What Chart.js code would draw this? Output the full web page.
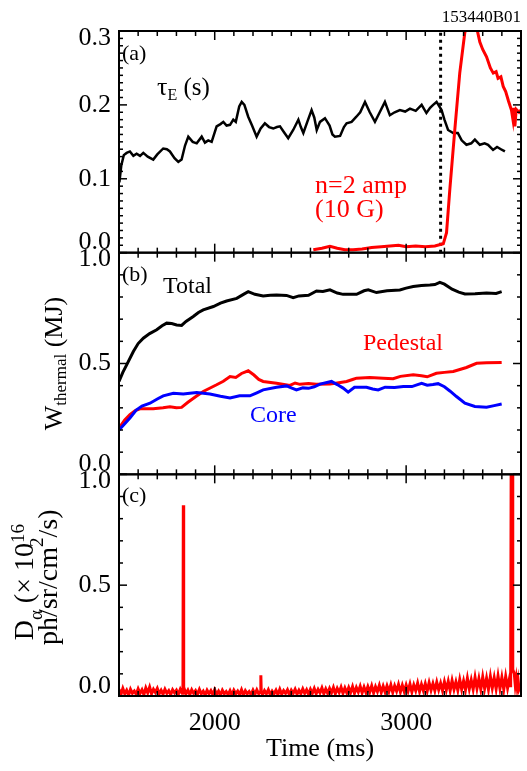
<!DOCTYPE html>
<html>
<head>
<meta charset="utf-8">
<script src="https://cdn.jsdelivr.net/npm/chart.js@4.4.1/dist/chart.umd.min.js"></script>
<style>
  html, body { margin: 0; background: #fff; }
  #wrap { width: 527px; height: 771px; position: relative; }
</style>
</head>
<body>
<div id="wrap"><canvas id="shot"></canvas></div>
<script>
const SERIF = '"Liberation Serif", "Times New Roman", serif';

// time axis (ms)
const timeRange = [1500, 3600];
const timeLabels = [2000, 3000];
const timeMinor = 100;

// panel (a): energy confinement time and n=2 amplitude
const tauLabels = [0.0, 0.1, 0.2, 0.3];
const tauE = [
  [1502, 0.095], [1512, 0.118], [1525, 0.132], [1540, 0.135], [1557, 0.137], [1575, 0.131],
  [1592, 0.134], [1610, 0.131], [1627, 0.135], [1650, 0.130], [1679, 0.126], [1700, 0.133],
  [1731, 0.141], [1750, 0.140], [1766, 0.137], [1790, 0.128], [1810, 0.123], [1827, 0.126],
  [1845, 0.145], [1862, 0.157], [1885, 0.150], [1906, 0.148], [1932, 0.157], [1949, 0.149],
  [1966, 0.152], [1984, 0.150], [2010, 0.171], [2030, 0.174], [2045, 0.177], [2062, 0.172],
  [2080, 0.173], [2097, 0.180], [2110, 0.177], [2128, 0.198], [2141, 0.204], [2155, 0.200],
  [2175, 0.184], [2195, 0.172], [2219, 0.157], [2240, 0.168], [2262, 0.175], [2284, 0.170],
  [2306, 0.168], [2325, 0.170], [2341, 0.171], [2362, 0.163], [2384, 0.155], [2410, 0.166],
  [2437, 0.180], [2450, 0.170], [2463, 0.162], [2485, 0.178], [2506, 0.193], [2520, 0.183],
  [2533, 0.166], [2550, 0.177], [2576, 0.182], [2600, 0.172], [2615, 0.160], [2628, 0.157],
  [2655, 0.158], [2675, 0.170], [2689, 0.175], [2715, 0.177], [2740, 0.184], [2760, 0.190],
  [2785, 0.204], [2810, 0.190], [2837, 0.177], [2862, 0.190], [2889, 0.204], [2915, 0.186],
  [2940, 0.190], [2967, 0.193], [2995, 0.191], [3020, 0.195], [3050, 0.192], [3081, 0.200],
  [3106, 0.189], [3125, 0.196], [3141, 0.200], [3159, 0.204], [3185, 0.193], [3200, 0.180],
  [3219, 0.166], [3246, 0.162], [3270, 0.162], [3290, 0.152], [3315, 0.146], [3340, 0.148],
  [3359, 0.153], [3385, 0.146], [3410, 0.148], [3428, 0.146], [3454, 0.139], [3475, 0.143],
  [3495, 0.140], [3516, 0.137]
];
const n2Amp = [
  [2515, 0.004], [2560, 0.006], [2602, 0.0085], [2640, 0.006], [2680, 0.004], [2723, 0.004],
  [2770, 0.005], [2820, 0.007], [2870, 0.008], [2915, 0.009], [2960, 0.010], [3000, 0.008],
  [3050, 0.009], [3100, 0.008], [3150, 0.009], [3194, 0.012], [3211, 0.027], [3228, 0.085],
  [3254, 0.166], [3280, 0.243], [3306, 0.297], [3320, 0.312], [3350, 0.318], [3368, 0.305],
  [3385, 0.285], [3400, 0.275], [3420, 0.265], [3440, 0.250], [3455, 0.243], [3470, 0.245],
  [3480, 0.236], [3495, 0.238], [3507, 0.225], [3520, 0.218], [3535, 0.205], [3550, 0.193],
  [3558, 0.180], [3563, 0.196], [3568, 0.171], [3575, 0.194], [3590, 0.190], [3600, 0.193]
];
const modeTime = 3180;

// panel (b): stored thermal energy (MJ)
const energyLabels = [0.0, 0.5, 1.0];
const wTotal = [
  [1500, 0.419], [1520, 0.460], [1540, 0.494], [1575, 0.554], [1600, 0.590], [1627, 0.614],
  [1660, 0.635], [1697, 0.652], [1725, 0.670], [1749, 0.682], [1775, 0.680], [1801, 0.674],
  [1827, 0.672], [1850, 0.690], [1888, 0.712], [1915, 0.730], [1940, 0.742], [1993, 0.757],
  [2030, 0.772], [2062, 0.782], [2115, 0.794], [2150, 0.812], [2175, 0.824], [2210, 0.812],
  [2253, 0.805], [2290, 0.808], [2323, 0.809], [2375, 0.807], [2410, 0.797], [2440, 0.805],
  [2490, 0.808], [2532, 0.827], [2565, 0.825], [2602, 0.832], [2640, 0.818], [2671, 0.812],
  [2741, 0.812], [2780, 0.828], [2802, 0.832], [2845, 0.820], [2900, 0.828], [2967, 0.832],
  [3000, 0.840], [3037, 0.847], [3080, 0.852], [3124, 0.854], [3150, 0.856], [3176, 0.866],
  [3200, 0.858], [3240, 0.835], [3275, 0.822], [3307, 0.814], [3360, 0.815], [3420, 0.818],
  [3470, 0.816], [3499, 0.824]
];
const wPedestal = [
  [1500, 0.209], [1530, 0.245], [1557, 0.269], [1585, 0.288], [1610, 0.296], [1679, 0.296],
  [1730, 0.300], [1766, 0.305], [1800, 0.300], [1827, 0.302], [1860, 0.325], [1900, 0.350],
  [1940, 0.374], [2010, 0.404], [2045, 0.420], [2080, 0.441], [2110, 0.437], [2140, 0.455],
  [2175, 0.467], [2205, 0.448], [2230, 0.428], [2253, 0.419], [2323, 0.411], [2393, 0.401],
  [2420, 0.412], [2445, 0.406], [2490, 0.410], [2530, 0.406], [2602, 0.407], [2640, 0.412],
  [2689, 0.419], [2720, 0.428], [2741, 0.434], [2810, 0.437], [2880, 0.433], [2932, 0.431],
  [2970, 0.442], [3037, 0.449], [3080, 0.445], [3110, 0.440], [3158, 0.456], [3200, 0.460],
  [3246, 0.464], [3315, 0.482], [3368, 0.501], [3420, 0.503], [3499, 0.505]
];
const wCore = [
  [1500, 0.200], [1530, 0.228], [1557, 0.254], [1590, 0.290], [1620, 0.308], [1662, 0.321],
  [1700, 0.340], [1731, 0.354], [1784, 0.366], [1836, 0.362], [1870, 0.366], [1906, 0.369],
  [1975, 0.362], [2030, 0.352], [2080, 0.344], [2130, 0.354], [2184, 0.354], [2220, 0.368],
  [2253, 0.381], [2323, 0.393], [2375, 0.399], [2400, 0.390], [2427, 0.381], [2460, 0.390],
  [2490, 0.388], [2520, 0.395], [2550, 0.407], [2610, 0.419], [2640, 0.405], [2671, 0.389],
  [2697, 0.371], [2730, 0.393], [2793, 0.393], [2825, 0.385], [2854, 0.381], [2890, 0.393],
  [2940, 0.392], [2985, 0.396], [3030, 0.396], [3060, 0.405], [3081, 0.411], [3110, 0.402],
  [3140, 0.405], [3167, 0.409], [3200, 0.395], [3230, 0.375], [3263, 0.351], [3307, 0.321],
  [3359, 0.306], [3420, 0.303], [3460, 0.310], [3499, 0.317]
];

// panel (c): D-alpha emission (x 1e16 ph/sr/cm^2/s), sampled every 10 ms plus spikes
const dAlphaLabels = [0.0, 0.5, 1.0];
const dAlpha = [
  [1500, 0.030], [1510, 0.006], [1520, 0.034], [1530, 0.010], [1540, 0.026], [1550, 0.004],
  [1560, 0.030], [1570, 0.012], [1580, 0.022], [1590, 0.008], [1600, 0.032], [1610, 0.012],
  [1620, 0.028], [1630, 0.006], [1640, 0.036], [1650, 0.014], [1660, 0.040], [1670, 0.010],
  [1680, 0.030], [1690, 0.016], [1700, 0.034], [1710, 0.010], [1720, 0.026], [1730, 0.008],
  [1740, 0.030], [1750, 0.012], [1760, 0.024], [1770, 0.006], [1780, 0.028], [1790, 0.014],
  [1800, 0.026], [1810, 0.008], [1820, 0.030], [1830, 0.012], [1834, 0.030], [1836, 0.860],
  [1838, 0.040], [1850, 0.010], [1860, 0.026], [1870, 0.006], [1880, 0.028], [1890, 0.012],
  [1900, 0.024], [1910, 0.008], [1920, 0.030], [1930, 0.010], [1940, 0.022], [1950, 0.004],
  [1960, 0.026], [1970, 0.010], [1980, 0.024], [1990, 0.006], [2000, 0.028], [2010, 0.008],
  [2020, 0.022], [2030, 0.004], [2040, 0.026], [2050, 0.010], [2060, 0.020], [2070, 0.006],
  [2080, 0.024], [2090, 0.004], [2100, 0.026], [2110, 0.010], [2120, 0.022], [2130, 0.006],
  [2140, 0.028], [2150, 0.004], [2160, 0.024], [2170, 0.010], [2180, 0.020], [2190, 0.006],
  [2200, 0.026], [2210, 0.008], [2220, 0.028], [2230, 0.010], [2239, 0.020], [2241, 0.094],
  [2243, 0.020], [2250, 0.006], [2260, 0.024], [2270, 0.010], [2280, 0.028], [2290, 0.006],
  [2300, 0.022], [2310, 0.010], [2320, 0.026], [2330, 0.006], [2340, 0.030], [2350, 0.008],
  [2360, 0.024], [2370, 0.012], [2380, 0.028], [2390, 0.006], [2400, 0.026], [2410, 0.012],
  [2420, 0.030], [2430, 0.008], [2440, 0.026], [2450, 0.010], [2460, 0.032], [2470, 0.012],
  [2480, 0.028], [2490, 0.008], [2500, 0.030], [2510, 0.012], [2520, 0.034], [2530, 0.010],
  [2540, 0.030], [2550, 0.014], [2560, 0.036], [2570, 0.010], [2580, 0.032], [2590, 0.012],
  [2600, 0.034], [2610, 0.014], [2620, 0.038], [2630, 0.010], [2640, 0.034], [2650, 0.016],
  [2660, 0.040], [2670, 0.012], [2680, 0.036], [2690, 0.014], [2700, 0.038], [2710, 0.016],
  [2720, 0.042], [2730, 0.012], [2740, 0.038], [2750, 0.018], [2760, 0.044], [2770, 0.014],
  [2780, 0.040], [2790, 0.016], [2800, 0.042], [2810, 0.018], [2820, 0.046], [2830, 0.014],
  [2840, 0.042], [2850, 0.020], [2860, 0.048], [2870, 0.016], [2880, 0.044], [2890, 0.018],
  [2900, 0.046], [2910, 0.020], [2920, 0.050], [2930, 0.016], [2940, 0.046], [2950, 0.022],
  [2960, 0.052], [2970, 0.018], [2980, 0.048], [2990, 0.020], [3000, 0.050], [3010, 0.022],
  [3020, 0.054], [3030, 0.018], [3040, 0.050], [3050, 0.024], [3060, 0.058], [3070, 0.020],
  [3080, 0.052], [3090, 0.024], [3100, 0.056], [3110, 0.022], [3120, 0.060], [3130, 0.026],
  [3140, 0.056], [3150, 0.024], [3160, 0.062], [3170, 0.028], [3180, 0.058], [3190, 0.024],
  [3200, 0.064], [3210, 0.028], [3220, 0.066], [3230, 0.024], [3240, 0.070], [3250, 0.030],
  [3260, 0.064], [3270, 0.026], [3280, 0.074], [3290, 0.030], [3300, 0.068], [3310, 0.028],
  [3320, 0.080], [3330, 0.032], [3340, 0.072], [3350, 0.030], [3360, 0.084], [3370, 0.034],
  [3380, 0.078], [3390, 0.030], [3400, 0.086], [3410, 0.034], [3420, 0.080], [3430, 0.030],
  [3440, 0.088], [3450, 0.036], [3460, 0.082], [3470, 0.032], [3480, 0.090], [3490, 0.034],
  [3500, 0.084], [3510, 0.030], [3520, 0.088], [3530, 0.036], [3540, 0.080], [3546, 0.040],
  [3549, 1.200], [3552, 0.300], [3554, 1.200], [3557, 0.120], [3565, 0.100], [3570, 0.050],
  [3575, 0.080], [3580, 0.040], [3585, 0.070], [3590, 0.030], [3600, 0.050]
];

const isLabel = (labels, v) => labels.some(l => Math.abs(l - v) < 1e-6);

function stepTicks(min, max, step) {
  return scale => {
    const n = Math.round((max - min) / step);
    const out = [];
    for (let i = 0; i <= n; i++) out.push({ value: +(min + i * step).toFixed(4) });
    scale.ticks = out;
  };
}

function panelAxis(min, max, step, labels, weight) {
  return {
    type: 'linear', position: 'left', stack: 'panels', stackWeight: 1, weight,
    min, max,
    grid: { display: false },
    border: { display: false },
    ticks: { display: false, callback: v => isLabel(labels, v) ? v.toFixed(1) : '' },
    afterBuildTicks: stepTicks(min, max, step),
    afterFit: s => { s.width = 119; }
  };
}

function line(data, color, width, yAxisID, extra) {
  return Object.assign({
    data, yAxisID, borderColor: color, borderWidth: width,
    pointRadius: 0, fill: false, tension: 0
  }, extra || {});
}

// sub/superscript text runs, optionally rotated to read bottom-to-top
function richText(ctx, runs, x, y, rotated, align) {
  ctx.save();
  ctx.translate(x, y);
  if (rotated) ctx.rotate(-Math.PI / 2);
  let total = 0;
  runs.forEach(r => { ctx.font = r.size + 'px ' + SERIF; r.w = ctx.measureText(r.text).width; total += r.w; });
  let cx = align === 'center' ? -total / 2 : 0;
  ctx.textAlign = 'left';
  ctx.textBaseline = 'alphabetic';
  runs.forEach(r => {
    ctx.font = r.size + 'px ' + SERIF;
    ctx.fillText(r.text, cx, r.dy || 0);
    cx += r.w;
  });
  ctx.restore();
}

const framePlugin = {
  id: 'frame',
  afterDatasetsDraw(chart) {
    const ctx = chart.ctx;
    const xs = chart.scales.x;
    const panels = [chart.scales.yA, chart.scales.yB, chart.scales.yC];
    ctx.save();
    ctx.strokeStyle = '#000';
    ctx.fillStyle = '#000';
    const seg = (x0, y0, x1, y1) => { ctx.beginPath(); ctx.moveTo(x0, y0); ctx.lineTo(x1, y1); ctx.stroke(); };
    panels.forEach(s => {
      ctx.lineWidth = 1.5;
      s.ticks.forEach(t => {
        const py = s.getPixelForValue(t.value);
        const len = t.label ? 8 : 4;
        seg(xs.left, py, xs.left + len, py);
        seg(xs.right, py, xs.right - len, py);
      });
      xs.ticks.forEach(t => {
        const px = xs.getPixelForValue(t.value);
        const len = t.label ? 9 : 5;
        seg(px, s.top, px, s.top + len);
        seg(px, s.bottom, px, s.bottom - len);
      });
      ctx.lineWidth = 2;
      ctx.strokeRect(xs.left, s.top, xs.right - xs.left, s.bottom - s.top);
    });
    // value labels on the left, kept inside each panel's span
    ctx.font = '26px ' + SERIF;
    ctx.textAlign = 'right';
    ctx.textBaseline = 'middle';
    panels.forEach(s => {
      s.ticks.forEach(t => {
        if (!t.label) return;
        const py = Math.min(Math.max(s.getPixelForValue(t.value), s.top + 7), s.bottom - 10);
        ctx.fillText(t.label, xs.left - 8, py);
      });
    });
    ctx.restore();
  },
  afterDraw(chart) {
    const ctx = chart.ctx;
    const a = chart.scales.yA, b = chart.scales.yB, c = chart.scales.yC;
    ctx.save();
    ctx.fillStyle = '#000';
    ctx.font = '17px ' + SERIF;
    ctx.textAlign = 'right';
    ctx.fillText('153440B01', 521, 22);
    ctx.textAlign = 'left';
    ctx.font = '22px ' + SERIF;
    ctx.fillText('(a)', 122, a.top + 29);
    ctx.fillText('(b)', 122, b.top + 28);
    ctx.fillText('(c)', 122, c.top + 28);
    richText(ctx, [
      { text: '\u03c4', size: 26 }, { text: 'E', size: 16, dy: 5 }, { text: ' (s)', size: 25 }
    ], 157, 95, false, 'left');
    ctx.font = '24px ' + SERIF;
    ctx.fillText('Total', 163, 293);
    ctx.fillStyle = '#ff0000';
    ctx.fillText('Pedestal', 363, 350);
    ctx.fillStyle = '#0000ff';
    ctx.fillText('Core', 250, 422);
    ctx.fillStyle = '#ff0000';
    ctx.font = '26px ' + SERIF;
    ctx.fillText('n=2 amp', 315, 193);
    ctx.fillText('(10 G)', 315, 217);
    ctx.fillStyle = '#000';
    richText(ctx, [
      { text: 'W', size: 26 }, { text: 'thermal', size: 17, dy: 4 }, { text: ' (MJ)', size: 26 }
    ], 62, (b.top + b.bottom) / 2, true, 'center');
    richText(ctx, [
      { text: 'D', size: 28 }, { text: '\u03b1', size: 19, dy: 9 }, { text: ' (\u00d7 10', size: 28 },
      { text: '16', size: 19, dy: -9 }
    ], 33, (c.top + c.bottom) / 2 - 3, true, 'center');
    richText(ctx, [
      { text: 'ph/sr/cm', size: 28 }, { text: '2', size: 19, dy: -14 }, { text: '/s)', size: 28 }
    ], 57, (c.top + c.bottom) / 2 - 8, true, 'center');
    ctx.restore();
  }
};

new Chart(document.getElementById('shot'), {
  type: 'line',
  data: {
    datasets: [
      line(n2Amp, '#ff0000', 3, 'yA'),
      line(tauE, '#000000', 2.5, 'yA'),
      line([[modeTime, 0], [modeTime, tauLabels[tauLabels.length - 1]]], '#000000', 3, 'yA',
        { borderDash: [3, 4] }),
      line(wTotal, '#000000', 3, 'yB'),
      line(wCore, '#0000ff', 3, 'yB'),
      line(wPedestal, '#ff0000', 3, 'yB'),
      line(dAlpha, '#ff0000', 3, 'yC')
    ]
  },
  options: {
    responsive: true,
    maintainAspectRatio: false,
    devicePixelRatio: 1,
    animation: false,
    layout: { padding: { top: 31, right: 6, left: 0, bottom: 0 } },
    plugins: { legend: { display: false }, tooltip: { enabled: false } },
    scales: {
      x: {
        type: 'linear', position: 'bottom',
        min: timeRange[0], max: timeRange[1],
        grid: { display: false, drawTicks: false },
        border: { display: false },
        afterBuildTicks: stepTicks(timeRange[0], timeRange[1], timeMinor),
        ticks: {
          autoSkip: false, maxRotation: 0, padding: 12, color: '#000',
          font: { family: SERIF, size: 26 },
          callback: v => isLabel(timeLabels, v) ? String(v) : ''
        },
        title: {
          display: true, text: 'Time (ms)', color: '#000',
          font: { family: SERIF, size: 26 }, padding: { top: 0, bottom: 6 }
        },
        afterFit: s => { s.height = 75; s.paddingLeft = 0; s.paddingRight = 0; }
      },
      yC: panelAxis(0, 1, 0.1, dAlphaLabels, 1),
      yB: panelAxis(0, 1, 0.1, energyLabels, 2),
      yA: panelAxis(0, 0.3, 0.01, tauLabels, 3)
    }
  },
  plugins: [framePlugin]
});
</script>
</body>
</html>
